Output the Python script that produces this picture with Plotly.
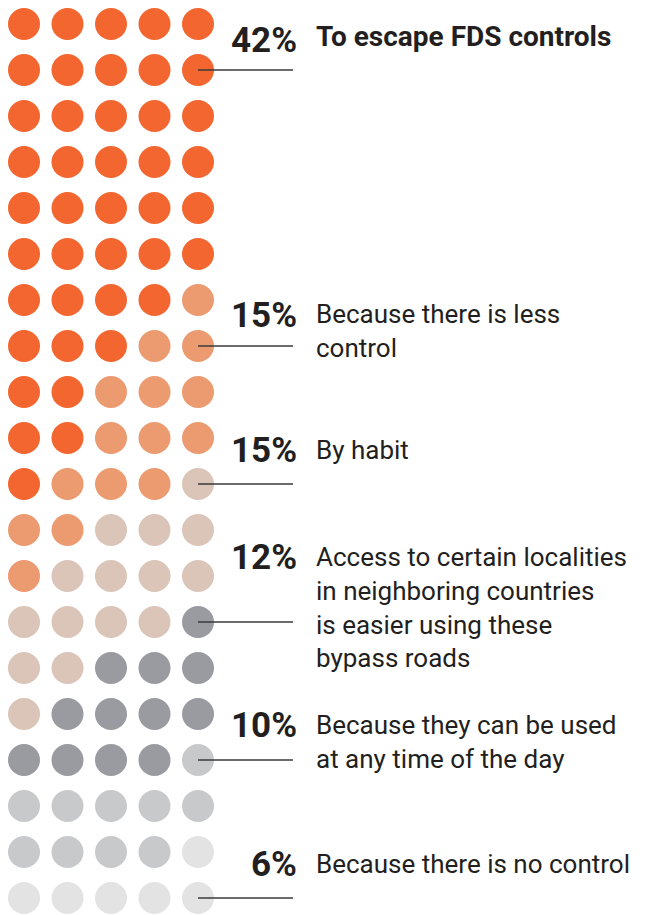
import plotly.graph_objects as go

# Survey answers: why the bypass roads are used
categories = ["To escape FDS controls", "Because there is less<br>control", "By habit",
              "Access to certain localities<br>in neighboring countries<br>is easier using these<br>bypass roads",
              "Because they can be used<br>at any time of the day", "Because there is no control"]
percent_labels = ["42%", "15%", "15%", "12%", "10%", "6%"]
counts = [42, 15, 15, 12, 10, 6]
colors = ["#F36630", "#EC9A70", "#DBC4B8", "#999BA1", "#C8C9CB", "#E3E3E3"]

# 5 x 20 dot grid, each digit is the category index of that dot
grid_rows = [
    "00000", "00000", "00000", "00000", "00000", "00000",
    "00001", "00011", "00111", "00111", "01112",
    "11222", "12222", "22223", "22333", "23333",
    "33334", "44444", "44445", "55555",
]

# grid row each leader line points at, and row where each label is placed
leader_rows = [1, 7, 10, 13, 16, 19]
label_rows = [0.35, 6.33, 9.28, 11.6, 15.25, 18.28]

COL_STEP, ROW_STEP, X0, Y0 = 43.5, 46.0, 24.0, 24.0
W, H = 645, 915

fig = go.Figure()
for k, (name, col) in enumerate(zip(categories, colors)):
    xs, ys = [], []
    for r, row in enumerate(grid_rows):
        for c, ch in enumerate(row):
            if int(ch) == k:
                xs.append(c)
                ys.append(r)
    fig.add_trace(go.Scatter(
        x=xs, y=ys, mode="markers", name=name, hoverinfo="skip",
        marker=dict(size=32, color=col, line=dict(width=0)),
    ))

# pixel -> axis unit helper
def px_x(p):
    return (p - X0) / COL_STEP

line_end = px_x(293)
pct_x = px_x(299)
txt_x = px_x(314)
fs_pct, fs_txt, fs_title = 35, 26, 28

for i, (pct, txt) in enumerate(zip(percent_labels, categories)):
    fig.add_shape(type="line", x0=4, x1=line_end, y0=leader_rows[i], y1=leader_rows[i],
                  xref="x", yref="y", line=dict(color="#3a3a3a", width=1.3), layer="above")
    fig.add_annotation(x=pct_x, y=label_rows[i], xref="x", yref="y", text="<b>%s</b>" % pct,
                       showarrow=False, xanchor="right", yanchor="middle",
                       font=dict(family="Roboto", size=fs_pct, color="#231F20"))
    if i == 0:
        fig.add_annotation(x=txt_x, y=label_rows[i] - 0.08, xref="x", yref="y",
                           text="<b>%s</b>" % txt, showarrow=False,
                           xanchor="left", yanchor="middle",
                           font=dict(family="Roboto", size=fs_title, color="#231F20"))
    else:
        fig.add_annotation(x=txt_x, y=label_rows[i] - (0.65 * fs_txt + 1) / ROW_STEP,
                           xref="x", yref="y", text=txt, showarrow=False,
                           xanchor="left", yanchor="top", align="left",
                           font=dict(family="Roboto", size=fs_txt, color="#231F20"))

fig.update_layout(
    width=W, height=H, margin=dict(l=0, r=0, t=0, b=0),
    paper_bgcolor="white", plot_bgcolor="white", showlegend=False,
    xaxis=dict(range=[px_x(0), px_x(W)], visible=False, fixedrange=True),
    yaxis=dict(range=[(H - Y0) / ROW_STEP, -Y0 / ROW_STEP], visible=False, fixedrange=True),
)

fig.write_html("out.html", config={"displayModeBar": False})
